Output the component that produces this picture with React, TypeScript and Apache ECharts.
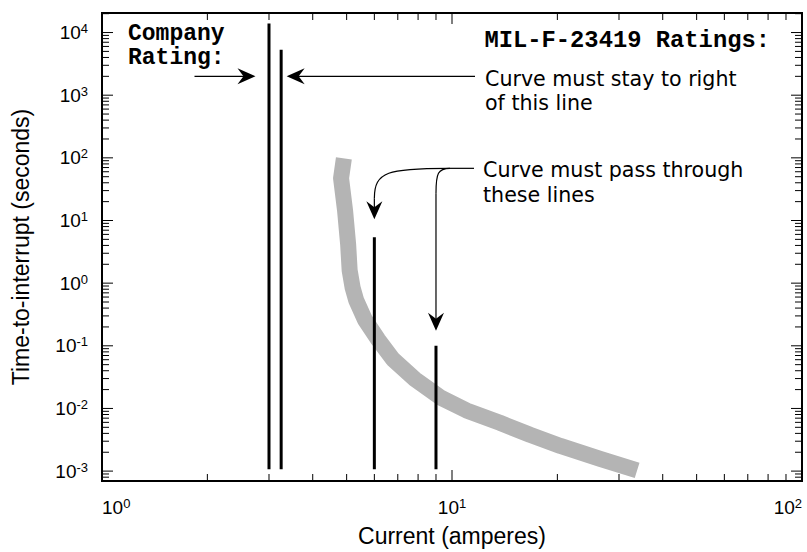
import { useEffect, useRef } from 'react';
import * as echarts from 'echarts';

// Axis extents (amperes, seconds)
const currentRange = [1, 100];
const timeRange = [6.95e-4, 2.05e4];

// Decades that carry a labelled major tick
const currentDecades = [1, 10, 100];
const timeDecades = [1e-4, 1e-3, 1e-2, 1e-1, 1, 10, 100, 1e3, 1e4];
const minorMantissas = [2, 3, 4, 5, 6, 7, 8, 9];

// Measured fuse curve: current (A) vs. time-to-interrupt (s)
const curveCurrent = [4.91, 4.82, 4.95, 5.05, 5.1, 5.2, 5.32, 5.64, 6.15, 6.78, 7.84, 9.3, 11.0, 13.7, 16.7, 20.4, 26.5, 33.8];
const curveTime = [97.8, 47.3, 14.2, 4.13, 1.6, 0.85, 0.54, 0.26, 0.126, 0.061, 0.0293, 0.0148, 0.0093, 0.0059, 0.0038, 0.00252, 0.00157, 0.00103];

// Rating lines: company rating, MIL lower bound, MIL pass-through checks
const ratingCurrent = [3, 3.25, 6, 9];
const ratingTimeLow = [0.00107, 0.00107, 0.00107, 0.00107];
const ratingTimeHigh = [14000, 5300, 5.4, 0.1];

// Heights (s) of the annotation arrows
const ratingArrowTime = 2000;
const passArrowTime = 68;

const SANS = 'Liberation Sans, Arial, sans-serif';
const NOTE = 'DejaVu Sans, Verdana, sans-serif';
const MONO = 'Liberation Mono, Courier New, monospace';

const inRange = (v: number, r: number[]) => v >= r[0] * 0.9999 && v <= r[1] * 1.0001;

function buildTicks(decades: number[], range: number[], major: boolean) {
  const out: number[] = [];
  decades.forEach((d) => {
    if (major) {
      if (inRange(d, range)) out.push(d);
      return;
    }
    minorMantissas.forEach((m) => {
      const v = m * d;
      if (inRange(v, range)) out.push(v);
    });
  });
  return out;
}

const decadeLabel = (v: number) => {
  const e = Math.log10(v);
  const r = Math.round(e);
  if (Math.abs(e - r) > 0.01) return '';
  return `{b|10}{s|${r}}`;
};

const labelRich = {
  b: { fontSize: 19, fontFamily: SANS, color: '#000', lineHeight: 21 },
  s: { fontSize: 13, fontFamily: SANS, color: '#000', padding: [0, 0, 8, 0] },
};

const MAJOR_LEN = 11;
const MINOR_LEN = 7;

// Short tick marks drawn as thin rect symbols anchored on the plot frame
function tickSeries(points: number[][], size: number[], offset: number[]) {
  return {
    type: 'scatter',
    data: points,
    symbol: 'rect',
    symbolSize: size,
    symbolOffset: offset,
    itemStyle: { color: '#000', opacity: 1 },
    silent: true,
    clip: false,
    z: 4,
  };
}

function frameTicks() {
  const out: any[] = [];
  [true, false].forEach((major) => {
    const len = major ? MAJOR_LEN : MINOR_LEN;
    const ys = buildTicks(timeDecades, timeRange, major);
    const xs = buildTicks(currentDecades, currentRange, major);
    out.push(tickSeries(ys.map((v) => [currentRange[0], v]), [len, 1], [len / 2, 0]));
    out.push(tickSeries(ys.map((v) => [currentRange[1], v]), [len, 1], [-len / 2, 0]));
    out.push(tickSeries(xs.map((v) => [v, timeRange[0]]), [1, len], [0, -len / 2]));
    out.push(tickSeries(xs.map((v) => [v, timeRange[1]]), [1, len], [0, len / 2]));
  });
  return out;
}

// Barbed arrowhead pointing along (dx, dy) with its tip at (tx, ty)
function arrowHead(tx: number, ty: number, dx: number, dy: number) {
  const L = 18;
  const W = 8;
  const N = 6;
  const nx = -dy;
  const ny = dx;
  return {
    type: 'polygon',
    shape: {
      points: [
        [tx, ty],
        [tx - dx * L + nx * W, ty - dy * L + ny * W],
        [tx - dx * (L - N), ty - dy * (L - N)],
        [tx - dx * L - nx * W, ty - dy * L - ny * W],
      ],
    },
    style: { fill: '#000' },
    z: 10,
  };
}

function buildAnnotations(chart: any) {
  const px = (x: number, y: number) => chart.convertToPixel({ gridIndex: 0 }, [x, y]);
  const thin = { stroke: '#000', lineWidth: 1.2, fill: 'none' };
  const els: any[] = [];

  // Company rating arrow (points right to the 3 A line)
  const comp = px(ratingCurrent[0], ratingArrowTime);
  const compTip = comp[0] - 13.5;
  els.push({ type: 'line', shape: { x1: compTip - 61, y1: comp[1], x2: compTip - 8, y2: comp[1] }, style: thin, z: 10 });
  els.push(arrowHead(compTip, comp[1], 1, 0));

  // MIL lower-bound arrow (points left to the 3.25 A line)
  const mil = px(ratingCurrent[1], ratingArrowTime);
  const milTip = mil[0] + 5.5;
  els.push({ type: 'line', shape: { x1: milTip + 8, y1: mil[1], x2: 475, y2: mil[1] }, style: thin, z: 10 });
  els.push(arrowHead(milTip, mil[1], -1, 0));

  // Pass-through arrows to the 6 A and 9 A lines
  const row = px(ratingCurrent[2], passArrowTime)[1];
  const top6 = px(ratingCurrent[2], ratingTimeHigh[2]);
  const top9 = px(ratingCurrent[3], ratingTimeHigh[3]);
  const tip6 = [top6[0], top6[1] - 18];
  const tip9 = [top9[0], top9[1] - 15];
  const junction = 448;
  els.push({ type: 'line', shape: { x1: 474, y1: row, x2: junction, y2: row }, style: thin, z: 10 });
  els.push({
    type: 'bezierCurve',
    shape: { x1: junction, y1: row, cpx1: tip6[0] + 14, cpy1: row, cpx2: tip6[0], cpy2: row + 3, x2: tip6[0], y2: row + 30 },
    style: thin,
    z: 10,
  });
  els.push({ type: 'line', shape: { x1: tip6[0], y1: row + 30, x2: tip6[0], y2: tip6[1] - 10 }, style: thin, z: 10 });
  els.push(arrowHead(tip6[0], tip6[1], 0, 1));
  els.push({
    type: 'bezierCurve',
    shape: { x1: junction + 2, y1: row, cpx1: tip9[0] + 2, cpy1: row, cpx2: tip9[0], cpy2: row + 5, x2: tip9[0], y2: row + 25 },
    style: thin,
    z: 10,
  });
  els.push({ type: 'line', shape: { x1: tip9[0], y1: row + 25, x2: tip9[0], y2: tip9[1] - 10 }, style: thin, z: 10 });
  els.push(arrowHead(tip9[0], tip9[1], 0, 1));

  // Texts
  els.push({
    type: 'text',
    x: 128,
    y: 22,
    style: { text: 'Company\nRating:', fontFamily: MONO, fontWeight: 'bold', fontSize: 23, lineHeight: 24, fill: '#000', align: 'left', verticalAlign: 'top' },
    z: 10,
  });
  els.push({
    type: 'text',
    x: 770,
    y: 28,
    style: { text: 'MIL-F-23419 Ratings:', fontFamily: MONO, fontWeight: 'bold', fontSize: 23.8, lineHeight: 24, fill: '#000', align: 'right', verticalAlign: 'top' },
    z: 10,
  });
  els.push({
    type: 'text',
    x: 485,
    y: 66.5,
    style: { text: 'Curve must stay to right\nof this line', fontFamily: NOTE, fontSize: 20.6, lineHeight: 24.5, fill: '#000', align: 'left', verticalAlign: 'top' },
    z: 10,
  });
  els.push({
    type: 'text',
    x: 483,
    y: 157.5,
    style: { text: 'Curve must pass through\nthese lines', fontFamily: NOTE, fontSize: 20.6, lineHeight: 25, fill: '#000', align: 'left', verticalAlign: 'top' },
    z: 10,
  });
  return els;
}

const option: any = {
  animation: false,
  backgroundColor: '#fff',
  grid: { left: 102, right: 5, top: 13, bottom: 66, show: true, borderColor: '#000', borderWidth: 2, backgroundColor: 'transparent' },
  xAxis: {
    type: 'log',
    logBase: 10,
    min: currentRange[0],
    max: currentRange[1],
    axisLine: { show: false },
    axisTick: { show: false },
    splitLine: { show: false },
    axisLabel: { formatter: decadeLabel, rich: labelRich, margin: 16, alignMinLabel: 'left', alignMaxLabel: 'right' },
    name: 'Current (amperes)',
    nameLocation: 'middle',
    nameGap: 43,
    nameTextStyle: { fontSize: 23, fontFamily: SANS, color: '#000' },
  },
  yAxis: {
    type: 'log',
    logBase: 10,
    min: timeRange[0],
    max: timeRange[1],
    axisLine: { show: false },
    axisTick: { show: false },
    splitLine: { show: false },
    axisLabel: { formatter: decadeLabel, rich: labelRich, margin: 14 },
    name: 'Time-to-interrupt (seconds)',
    nameLocation: 'middle',
    nameGap: 70,
    nameTextStyle: { fontSize: 23, fontFamily: SANS, color: '#000' },
  },
  series: [
    {
      type: 'line',
      data: curveCurrent.map((c, i) => [c, curveTime[i]]),
      symbol: 'none',
      silent: true,
      lineStyle: { color: '#b4b4b4', width: 16, cap: 'butt', join: 'round' },
      z: 2,
    },
    ...ratingCurrent.map((c, i) => ({
      type: 'line',
      data: [
        [c, ratingTimeLow[i]],
        [c, ratingTimeHigh[i]],
      ],
      symbol: 'none',
      silent: true,
      lineStyle: { color: '#000', width: 3, cap: 'butt' },
      z: 3,
    })),
    ...frameTicks(),
  ],
};

export default function App() {
  const ref = useRef<HTMLDivElement>(null);
  useEffect(() => {
    const el = ref.current;
    if (!el) return;
    const chart = echarts.init(el, null, { renderer: 'svg' });
    chart.setOption(option);
    chart.setOption({ graphic: buildAnnotations(chart) });
    return () => chart.dispose();
  }, []);
  return <div ref={ref} style={{ position: 'absolute', left: 0, top: 0, width: 807, height: 552 }} />;
}
